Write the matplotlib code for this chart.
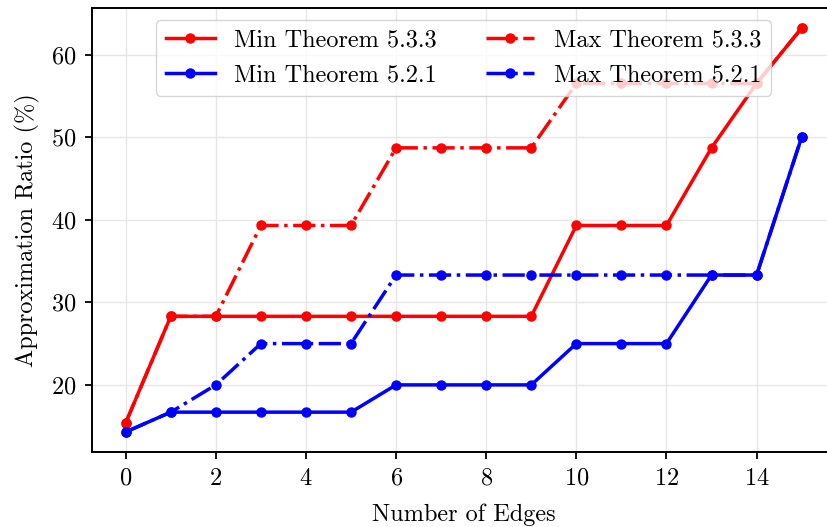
import numpy as np
import matplotlib as mpl
import matplotlib.pyplot as plt

mpl.rcParams['font.family'] = 'serif'
mpl.rcParams['font.serif'] = ['cmr10']
mpl.rcParams['mathtext.fontset'] = 'cm'
mpl.rcParams['axes.unicode_minus'] = False
mpl.rcParams['axes.formatter.use_mathtext'] = True

edges = np.arange(16)
min_533 = [15.4, 28.3, 28.3, 28.3, 28.3, 28.3, 28.3, 28.3, 28.3, 28.3, 39.3, 39.3, 39.3, 48.7, 56.5, 63.2]
max_533 = [15.4, 28.3, 28.3, 39.3, 39.3, 39.3, 48.7, 48.7, 48.7, 48.7, 56.5, 56.5, 56.5, 56.5, 56.5, 63.2]
min_521 = [14.3, 16.7, 16.7, 16.7, 16.7, 16.7, 20.0, 20.0, 20.0, 20.0, 25.0, 25.0, 25.0, 33.3, 33.3, 50.0]
max_521 = [14.3, 16.7, 20.0, 25.0, 25.0, 25.0, 33.3, 33.3, 33.3, 33.3, 33.3, 33.3, 33.3, 33.3, 33.3, 50.0]

fig = plt.figure(figsize=(8.28, 5.27), dpi=100)
ax = fig.add_axes([0.111, 0.142, 0.898, 0.843])

l1, = ax.plot(edges, min_533, '-', color='red', marker='o', lw=2.5, ms=6.5, label='Min Theorem 5.3.3')
l2, = ax.plot(edges, max_533, '-.', color='red', marker='o', lw=2.5, ms=6.5, label='Max Theorem 5.3.3')
l3, = ax.plot(edges, min_521, '-', color='blue', marker='o', lw=2.5, ms=6.5, label='Min Theorem 5.2.1')
l4, = ax.plot(edges, max_521, '-.', color='blue', marker='o', lw=2.5, ms=6.5, label='Max Theorem 5.2.1')

ax.grid(True, color='#e6e6e6', lw=1)
ax.set_axisbelow(True)
ax.tick_params(labelsize=17.5, width=1.3, length=5, pad=6)
for s in ax.spines.values():
    s.set_linewidth(1.4)

ax.set_xlabel('Number of Edges', fontsize=17.5, labelpad=10)
ax.set_ylabel('Approximation Ratio (%)', fontsize=17.5, labelpad=8)

# column-wise fill -> pass handles so rows read Min / Max
ax.legend([l1, l3, l2, l4], [h.get_label() for h in (l1, l3, l2, l4)],
          loc='upper center', ncol=2, fontsize=17.5, handlelength=2.0, columnspacing=2.0)

fig.savefig('out.png', dpi=100)
